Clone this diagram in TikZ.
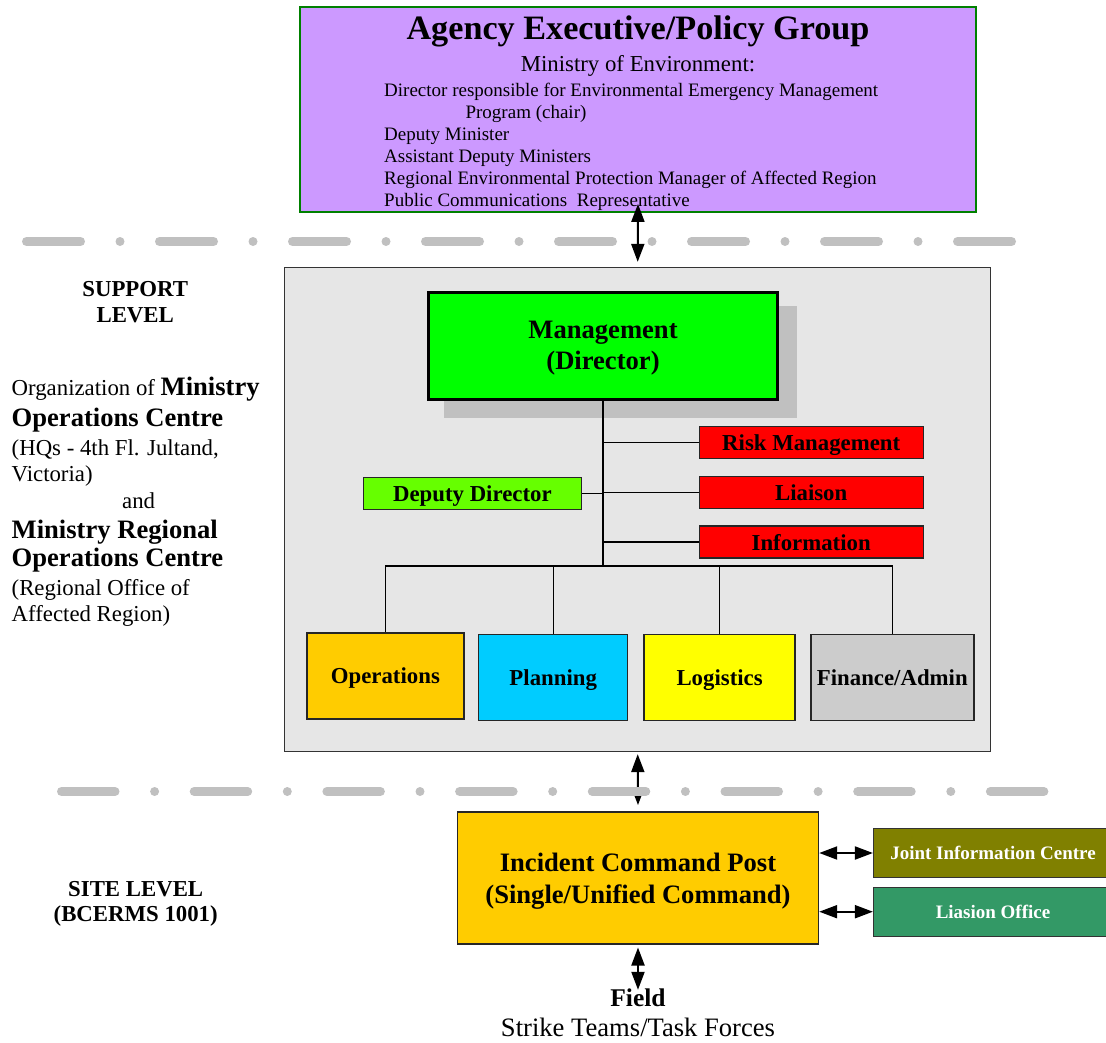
\documentclass[tikz,border=0pt]{standalone}
\usepackage{fontspec}
\setmainfont{Liberation Serif}
\usepackage{tikz}
\usetikzlibrary{arrows.meta}
\definecolor{grpfill}{HTML}{CC99FF}
\definecolor{grpedge}{HTML}{008000}
\definecolor{panelfill}{HTML}{E6E6E6}
\definecolor{shadowfill}{HTML}{C0C0C0}
\definecolor{mgmtfill}{HTML}{00FF00}
\definecolor{depfill}{HTML}{66FF00}
\definecolor{riskfill}{HTML}{FF0000}
\definecolor{opsfill}{HTML}{FFCC00}
\definecolor{planfill}{HTML}{00CCFF}
\definecolor{logfill}{HTML}{FFFF00}
\definecolor{finfill}{HTML}{CCCCCC}
\definecolor{jicfill}{HTML}{808000}
\definecolor{lofill}{HTML}{339966}
\definecolor{dashgray}{HTML}{C0C0C0}

\begin{document}
\begin{tikzpicture}[x=1pt, y=-1pt,  every node/.style={inner sep=0pt},  unitbox/.style={draw=black!85, line width=1.4pt, text depth=0pt, font=\bfseries\fontsize{22.8}{27}\selectfont},  staffbox/.style={unitbox, fill=riskfill, minimum width=224pt, minimum height=32pt},  sectionbox/.style={unitbox, minimum height=86pt},  sidebox/.style={draw=black!80, line width=1.2pt, minimum width=239pt, minimum height=49pt, text=white, font=\bfseries\fontsize{19}{22}\selectfont},  listline/.style={anchor=base west, font=\fontsize{19}{22}\selectfont},  noteline/.style={anchor=base west, font=\fontsize{22.8}{27}\selectfont},  bignote/.style={anchor=base west, font=\bfseries\fontsize{26.6}{31}\selectfont},  tierlabel/.style={anchor=base, font=\bfseries\fontsize{22.8}{27}\selectfont},  link/.style={{Triangle[length=18pt,width=13pt]}-{Triangle[length=18pt,width=13pt]}, line width=2pt},  wire/.style={line width=1.3pt},  divider/.style={dashgray, line width=9pt, line cap=round, dash pattern=on 54pt off 39.5pt on 0pt off 39.5pt}]
  \useasboundingbox (0,0) rectangle (1106,1042);

  % policy group
  \node[draw=grpedge, line width=1.8pt, fill=grpfill, minimum width=676pt, minimum height=205pt] (grp) at (638,109.5) {};
  \node[anchor=base, font=\bfseries\fontsize{34.2}{40}\selectfont] (grptitle) at (638,39) {Agency Executive/Policy Group};
  \node[anchor=base, font=\fontsize{22.8}{27}\selectfont] (ministry) at (638,71.7) {Ministry of Environment:};
  \node[listline] (l1) at (384,96.7) {Director responsible for Environmental Emergency Management};
  \node[listline] (l2) at (465.4,118.5) {Program (chair)};
  \node[listline] (l3) at (384,140.5) {Deputy Minister};
  \node[listline] (l4) at (384,162.5) {Assistant Deputy Ministers};
  \node[listline] (l5) at (384,184.7) {Regional Environmental Protection Manager of Affected Region};
  \node[listline] (l6) at (384,206.7) {Public Communications\ \ Representative};

  % support level
  \node[draw=black!80, line width=1.3pt, fill=panelfill, minimum width=706pt, minimum height=484pt] (panel) at (637.7,509.5) {};
  \fill[shadowfill] (444,306) rectangle (796.5,417.7);
  \node[draw=black, line width=3pt, fill=mgmtfill, minimum width=349pt, minimum height=107pt, align=center, text depth=0pt, font=\bfseries\fontsize{26.6}{31}\selectfont] (mgmt) at (603,345.5) {Management\\(Director)};
  \node[staffbox] (risk) at (811.2,442.5) {Risk Management};
  \node[staffbox] (liaison) at (811.2,492.3) {Liaison};
  \node[staffbox] (info) at (811.2,542) {Information};
  \node[unitbox, fill=depfill, minimum width=218pt, minimum height=32pt] (deputy) at (472.4,493.3) {Deputy Director};
  \node[sectionbox, fill=opsfill, minimum width=157pt] (ops) at (385.4,676) {Operations};
  \node[sectionbox, fill=planfill, minimum width=149pt] (plan) at (553.2,677.4) {Planning};
  \node[sectionbox, fill=logfill, minimum width=151pt] (log) at (719.6,677.4) {Logistics};
  \node[sectionbox, fill=finfill, minimum width=163pt] (fin) at (892.3,677.4) {Finance/Admin};
  \coordinate (hub) at (603,566);

  \draw[line width=2.6pt] (mgmt.south) -- (hub);
  \draw[wire] (mgmt.south |- risk.west) -- (risk.west);
  \draw[wire] (mgmt.south |- liaison.west) -- (liaison.west);
  \draw[wire] (mgmt.south |- info.west) -- (info.west);
  \draw[wire] (deputy.east) -- (deputy.east -| mgmt.south);
  \draw[wire] (ops.north) -- (ops.north |- hub) -- (fin.north |- hub) -- (fin.north);
  \draw[wire] (plan.north) -- (plan.north |- hub);
  \draw[wire] (log.north) -- (log.north |- hub);

  % left notes
  \node[tierlabel] (sup1) at (135.2,296.7) {SUPPORT};
  \node[tierlabel] (sup2) at (135.2,322.7) {LEVEL};
  \node[noteline] (n1) at (11.5,395) {Organization of {\bfseries\fontsize{26.6}{31}\selectfont Ministry}};
  \node[bignote] (n2) at (11.5,426.7) {Operations Centre};
  \node[noteline] (n3) at (11.5,455) {(HQs - 4th Fl. Jultand,};
  \node[noteline] (n4) at (11.5,481.7) {Victoria)};
  \node[anchor=base, font=\fontsize{22.8}{27}\selectfont] (n5) at (138.6,508.3) {and};
  \node[bignote] (n6) at (11.5,538.3) {Ministry Regional};
  \node[bignote] (n7) at (11.5,566.7) {Operations Centre};
  \node[noteline] (n8) at (11.5,595) {(Regional Office of};
  \node[noteline] (n9) at (11.5,621.7) {Affected Region)};
  \node[tierlabel] (site1) at (135.7,896) {SITE LEVEL};
  \node[tierlabel] (site2) at (135.7,921.7) {(BCERMS 1001)};

  % site level
  \node[draw=black!85, line width=1.4pt, fill=opsfill, minimum width=361pt, minimum height=132pt, align=center, text depth=0pt, font=\bfseries\fontsize{26.6}{32}\selectfont] (icp) at (638,877.8) {Incident Command Post\\(Single/Unified Command)};
  \node[sidebox, fill=jicfill] (jic) at (993,853) {Joint Information Centre};
  \node[sidebox, fill=lofill] (lo) at (993,911.7) {Liasion Office};
  \node[anchor=base, font=\bfseries\fontsize{25.5}{30}\selectfont] (field) at (638,1006.7) {Field};
  \node[anchor=base, font=\fontsize{26.6}{31}\selectfont] (teams) at (638,1036.7) {Strike Teams/Task Forces};

  \draw[link] ([yshift=9pt]grp.south) -- ([yshift=5pt]panel.north);
  \draw[link] ([yshift=-2pt]panel.south) -- ([yshift=6pt]icp.north);
  \draw[link] (jic.west -| icp.east) -- (jic.west);
  \draw[link] (lo.west -| icp.east) -- (lo.west);
  \draw[link] ([yshift=-3pt]icp.south) -- ([yshift=-1pt]field.north);

  % level dividers
  \draw[divider] (26.5,241.5) -- (1011.5,241.5);
  \draw[divider, dash pattern=on 53.5pt off 39.6pt on 0pt off 39.6pt] (61.5,791.5) -- (1044.2,791.5);
\end{tikzpicture}
\end{document}
